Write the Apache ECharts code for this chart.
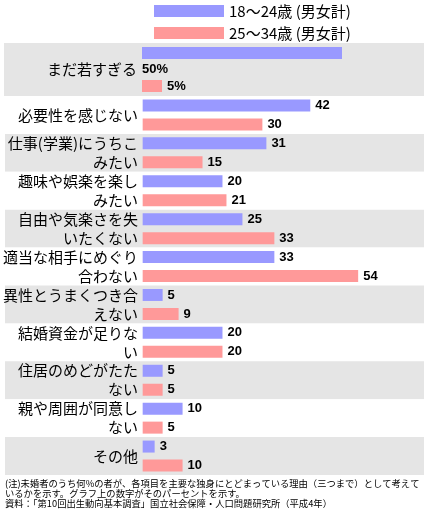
<!DOCTYPE html>
<html>
<head>
<meta charset="utf-8">
<script src="https://cdn.jsdelivr.net/npm/echarts@6/dist/echarts.min.js"></script>
<style>
  html, body { margin: 0; padding: 0; background: #fff; }
  #main { width: 426px; height: 516px; }
</style>
</head>
<body>
<div id="main"></div>
<script>
// 独身にとどまっている理由
const categories = ['まだ若すぎる', '必要性を感じない', '仕事(学業)にうちこ\nみたい', '趣味や娯楽を楽し\nみたい',
  '自由や気楽さを失\nいたくない', '適当な相手にめぐり\n合わない', '異性とうまくつき合\nえない',
  '結婚資金が足りな\nい', '住居のめどがたた\nない', '親や周囲が同意し\nない', 'その他'];
const age18to24 = [50, 42, 31, 20, 25, 33, 5, 20, 5, 10, 3];
const age25to34 = [5, 30, 15, 21, 33, 54, 9, 20, 5, 5, 10];
const seriesNames = ['18〜24歳 (男女計)', '25〜34歳 (男女計)'];
const note = '(注)未婚者のうち何%の者が、各項目を主要な独身にとどまっている理由（三つまで）として考えて\n' +
  'いるかを示す。グラフ上の数字がそのパーセントを示す。\n' +
  '資料：「第10回出生動向基本調査」国立社会保障・人口問題研究所（平成4年）';

const blue = '#9999ff', pink = '#ff9999', gray = '#e5e5e5';
const jp = 'Noto Sans CJK JP';

function yAxis(idx, data, colors) {
  return {
    type: 'category', gridIndex: idx, data: data, inverse: true,
    offset: -134,
    axisLine: { show: false }, axisTick: { show: false },
    axisLabel: { color: '#000', fontSize: 15, lineHeight: 19, fontFamily: jp, margin: 1 },
    splitArea: { show: true, areaStyle: { color: colors } }
  };
}
function xAxis(idx) {
  return { type: 'value', gridIndex: idx, min: -34.5, max: 70.5, show: false, splitLine: { show: false } };
}
var valLabel = { show: true, position: 'right', distance: 5, color: '#000', fontSize: 13,
  fontWeight: 'bold', fontFamily: 'Liberation Sans' };

var option = {
  animation: false,
  title: {
    text: note, left: 5, top: 479, padding: 0,
    textStyle: { fontSize: 9.3, lineHeight: 9.7, fontWeight: 'normal', color: '#000', fontFamily: jp }
  },
  legend: {
    data: seriesNames, orient: 'vertical', left: 154, top: 3.5, padding: 0,
    itemWidth: 70, itemHeight: 12, itemGap: 7, icon: 'rect',
    textStyle: { fontSize: 15, color: '#000', fontFamily: jp }
  },
  grid: [
    { left: 4, right: 2, top: 43, height: 53 },
    { left: 4, right: 2, top: 96, height: 379 }
  ],
  xAxis: [xAxis(0), xAxis(1)],
  yAxis: [
    yAxis(0, categories.slice(0, 1), [gray]),
    yAxis(1, categories.slice(1), ['#ffffff', gray])
  ],
  series: [
    { name: seriesNames[0], type: 'bar', xAxisIndex: 0, yAxisIndex: 0, data: age18to24.slice(0, 1),
      barWidth: 12, barGap: '175%', itemStyle: { color: blue },
      label: Object.assign({}, valLabel, { position: [0, 22], verticalAlign: 'middle', align: 'left', formatter: '{c}%' }) },
    { name: seriesNames[1], type: 'bar', xAxisIndex: 0, yAxisIndex: 0, data: age25to34.slice(0, 1),
      barWidth: 12, barGap: '175%', itemStyle: { color: pink },
      label: Object.assign({}, valLabel, { formatter: '{c}%' }) },
    { name: seriesNames[0], type: 'bar', xAxisIndex: 1, yAxisIndex: 1, data: age18to24.slice(1),
      barWidth: 12, barGap: '58%', itemStyle: { color: blue }, label: valLabel },
    { name: seriesNames[1], type: 'bar', xAxisIndex: 1, yAxisIndex: 1, data: age25to34.slice(1),
      barWidth: 12, barGap: '58%', itemStyle: { color: pink }, label: valLabel }
  ]
};

var myChart = echarts.init(document.getElementById('main'));
myChart.setOption(option);
</script>
</body>
</html>
